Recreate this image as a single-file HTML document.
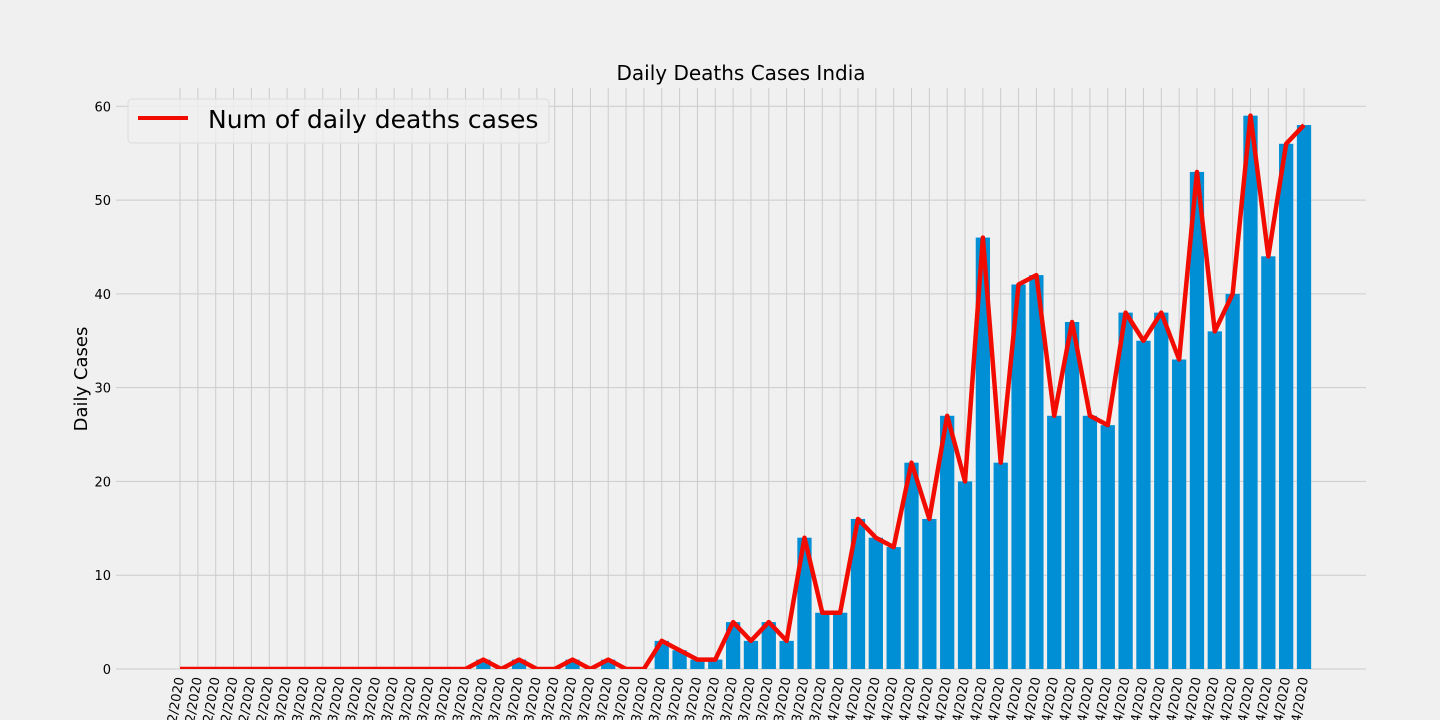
<!DOCTYPE html>
<html><head><meta charset="utf-8">
<style>
html,body{margin:0;padding:0;background:#f0f0f0;overflow:hidden;width:1440px;height:720px;}
svg{display:block;}
svg text{font-family:"DejaVu Sans","Liberation Sans",sans-serif;fill:#000;}
</style></head>
<body>
<svg id="chart" width="1440" height="720" xmlns="http://www.w3.org/2000/svg">
<defs><clipPath id="plotclip"><rect x="116" y="88" width="1250" height="581"/></clipPath></defs>
<rect width="1440" height="720" fill="#f0f0f0"/>
<text x="741" y="80" font-size="20" text-anchor="middle">Daily Deaths Cases India</text>
<text transform="translate(87,379) rotate(-90)" font-size="18" text-anchor="middle">Daily Cases</text>
<g id="grid"></g>
<g id="bars"></g>
<g id="line" clip-path="url(#plotclip)"></g>
<g id="yticks"></g>
<g id="xticks"></g>
<g>
<rect x="128" y="99" width="421" height="44" rx="4" fill="#f0f0f0" fill-opacity="0.8" stroke="#dcdcdc"/>
<line x1="138" y1="118" x2="188" y2="118" stroke="#f20c00" stroke-width="4"/>
<text x="208" y="128" font-size="25">Num of daily deaths cases</text>
</g>
</svg>
<script>
const startDay = [24, 2];
const deaths = [0,0,0,0,0,0,0,0,0,0,0,0,0,0,0,0,0,1,0,1,0,0,1,0,1,0,0,3,2,1,1,5,3,5,3,14,6,6,16,14,13,22,16,27,20,46,22,41,42,27,37,27,26,38,35,38,33,53,36,40,59,44,56,58];
const yTicks = [0,10,20,30,40,50,60];

const NS="http://www.w3.org/2000/svg";
const L=116,R=1366,T=88,B=669;
const xmin=-3.59, xmax=deaths.length-1+3.475, ymax=61.95;
const xs=v=>L+(v-xmin)/(xmax-xmin)*(R-L);
const ys=v=>B-v/ymax*(B-T);
function mk(tag,attrs,parent){const e=document.createElementNS(NS,tag);for(const k in attrs)e.setAttribute(k,attrs[k]);parent.appendChild(e);return e;}
const grid=document.getElementById('grid'),bars=document.getElementById('bars'),line=document.getElementById('line'),yt=document.getElementById('yticks'),xt=document.getElementById('xticks');
yTicks.forEach(t=>{
  const g=mk('line',{x1:L,x2:R,y1:ys(t),y2:ys(t),stroke:'#cbcbcb','stroke-width':1},grid);
  
  
  const tx=mk('text',{x:111,y:ys(t)+5,'font-size':13,'text-anchor':'end'},yt);
  tx.textContent=t;
  
  
});
const days=[29,31,30];
let d=startDay[0],m=startDay[1];
const bw=(R-L)/(xmax-xmin)*0.8;
let pts=[];
deaths.forEach((v,i)=>{
  const x=xs(i);
  const g=mk('line',{x1:x,x2:x,y1:T,y2:B,stroke:'#cbcbcb','stroke-width':1},grid);
  
  
  const b=mk('rect',{x:x-bw/2,y:ys(v),width:bw,height:B-ys(v),fill:'#008fd5'},bars);
  
  
  pts.push(x+','+ys(v));
  const lbl=String(d).padStart(2,'0')+'/'+String(m).padStart(2,'0')+'/2020';
  const tx=mk('text',{transform:'translate('+(x+4)+',678) rotate(-80)','font-size':13,'text-anchor':'end'},xt);
  tx.textContent=lbl;
  
  
  d++; if(d>days[m-2]){d=1;m++;}
});
const pl=mk('polyline',{points:pts.join(' '),fill:'none',stroke:'#f20c00','stroke-width':4.5,'stroke-linejoin':'round'},line);


</script>
</body></html>
